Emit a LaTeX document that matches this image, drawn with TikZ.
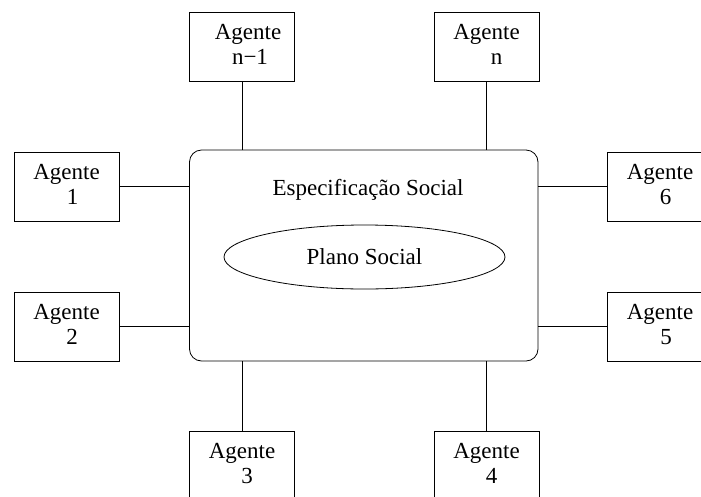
\documentclass[tikz,border=0pt]{standalone}
\usepackage{fontspec}
\setmainfont{Liberation Serif}
\usetikzlibrary{shapes.geometric}
\begin{document}
\begin{tikzpicture}[x=1pt,y=-1pt,line width=0.8pt,
  txt/.style={font=\fontsize{23}{25}\selectfont},
  agent/.style={draw, rectangle, minimum width=105pt, minimum height=69pt,
    align=center, inner sep=0pt, text depth=4pt, txt},
  link/.style={draw}]
\clip (0,0) rectangle (701,496);
\node[draw, rectangle, rounded corners=12pt, minimum width=348.5pt, minimum height=211pt] (spec) at (363.75,255.5) {};
\node[txt, anchor=base] (spectitle) at (368,195) {Especificação Social};
\node[draw, ellipse, minimum width=281pt, minimum height=64pt, inner sep=0pt, txt] (plano) at (364.5,257) {Plano Social};

\node[agent] (an1) at (242,46.5) {\hspace*{12pt}Agente\\\hspace*{16pt}n−1};
\node[agent] (an) at (486.5,46.5) {Agente\\\hspace*{20pt}n};
\node[agent] (a1) at (66.5,186.5) {Agente\\\hspace*{12pt}1};
\node[agent] (a2) at (66.5,326.5) {Agente\\\hspace*{11pt}2};
\node[agent] (a6) at (660,186.5) {Agente\\\hspace*{11pt}6};
\node[agent] (a5) at (660,326.5) {Agente\\\hspace*{12pt}5};
\node[agent] (a3) at (242,465.5) {Agente\\\hspace*{10pt}3};
\node[agent] (a4) at (486.5,465.5) {Agente\\\hspace*{10pt}4};

\draw[link] (an1) -- (an1 |- spec.north);
\draw[link] (an) -- (an |- spec.north);
\draw[link] (a3) -- (a3 |- spec.south);
\draw[link] (a4) -- (a4 |- spec.south);
\draw[link] (a1) -- (a1 -| spec.west);
\draw[link] (a2) -- (a2 -| spec.west);
\draw[link] (a6) -- (a6 -| spec.east);
\draw[link] (a5) -- (a5 -| spec.east);
\end{tikzpicture}
\end{document}
